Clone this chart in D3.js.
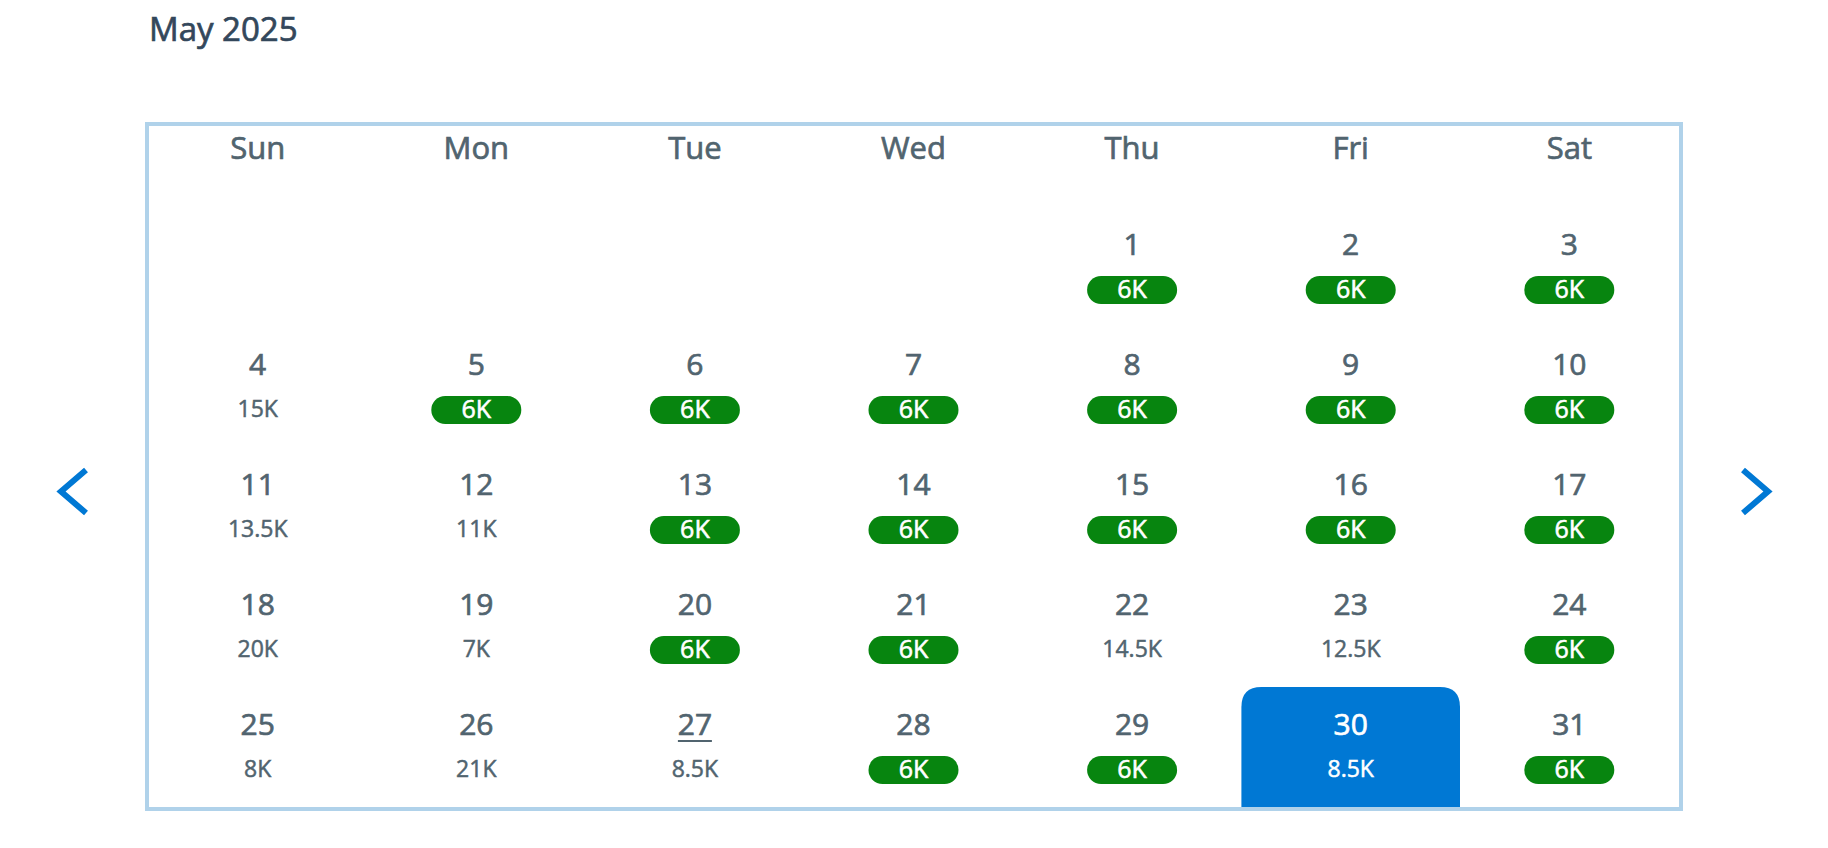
<!DOCTYPE html>
<html>
<head>
<meta charset="utf-8">
<script src="https://cdn.jsdelivr.net/npm/d3@7"></script>
<style>
  body { margin: 0; background: #fff; }
  text { font-family: "Open Sans", "Noto Sans", sans-serif; stroke: currentColor; paint-order: stroke; }
</style>
</head>
<body>
<div id="cal"></div>
<script>
const title = "May 2025";
const weekdays = ["Sun", "Mon", "Tue", "Wed", "Thu", "Fri", "Sat"];
const weeks = [0, 1, 2, 3, 4];
const firstWeekday = 4; // May 1 is a Thursday
const today = 27;
const selected = 30;
const lowest = 6;
// price per day of the month, in thousands
const prices = [6, 6, 6, 15, 6, 6, 6, 6, 6, 6,
                13.5, 11, 6, 6, 6, 6, 6, 20, 7, 6,
                6, 14.5, 12.5, 6, 8, 21, 8.5, 6, 6, 8.5, 6];

const width = 1828, height = 848;
const frame = {left: 147, right: 1681, top: 124, bottom: 809};

const colDay = "#51646f", colTitle = "#33475b", colBlue = "#0078d4",
      colGreen = "#07850f", colFrame = "#b0d2ea";

const svg = d3.select("#cal").append("svg")
    .attr("width", width)
    .attr("height", height)
    .style("display", "block");

const x = d3.scaleBand().domain(weekdays).range([148.4, 1678.6]);
const y = d3.scaleBand().domain(weeks).range([207, 807]);

// no medium weight installed, so regular text gets a thin outline
svg.append("text")
    .attr("x", 149)
    .attr("y", 41)
    .attr("font-size", 33)
    .attr("stroke-width", 0.7)
    .style("color", colTitle)
    .attr("fill", colTitle)
    .text(title);

// header row
svg.append("g").selectAll("text")
    .data(weekdays)
    .join("text")
    .attr("x", d => x(d) + x.bandwidth() / 2)
    .attr("y", 148)
    .attr("dy", "0.36em")
    .attr("text-anchor", "middle")
    .attr("font-size", 31)
    .attr("stroke-width", 0.7)
    .style("color", colDay)
    .attr("fill", colDay)
    .text(d => d);

const days = prices.map((p, i) => {
    const pos = i + firstWeekday;
    return {day: i + 1, price: p, col: weekdays[pos % 7], row: Math.floor(pos / 7)};
});

const cell = svg.append("g").selectAll("g")
    .data(days)
    .join("g")
    .attr("transform", d => `translate(${x(d.col) + x.bandwidth() / 2}, ${y(d.row)})`);

// selected cell, square at the bottom, round at the top
cell.filter(d => d.day === selected)
    .append("path")
    .attr("fill", colBlue)
    .attr("d", () => {
        const w = x.bandwidth() / 2, h = y.bandwidth(), r = 20;
        return `M${-w},${h}V${r}Q${-w},0 ${-w + r},0H${w - r}Q${w},0 ${w},${r}V${h}Z`;
    });

cell.append("text")
    .attr("y", 37)
    .attr("dy", "0.36em")
    .attr("text-anchor", "middle")
    .attr("font-size", 30)
    .attr("stroke-width", 0.7)
    .style("color", d => d.day === selected ? "#fff" : colDay)
    .attr("fill", d => d.day === selected ? "#fff" : colDay)
    .text(d => d.day);

// underline for today
cell.filter(d => d.day === today)
    .append("rect")
    .attr("x", -17)
    .attr("y", 53)
    .attr("width", 34)
    .attr("height", 2)
    .attr("fill", colDay);

cell.filter(d => d.price === lowest)
    .append("rect")
    .attr("x", -45)
    .attr("y", 69)
    .attr("width", 90)
    .attr("height", 28)
    .attr("rx", 14)
    .attr("fill", colGreen);

cell.append("text")
    .attr("y", d => d.price === lowest ? 81.5 : 81.5)
    .attr("dy", "0.36em")
    .attr("text-anchor", "middle")
    .attr("font-size", d => d.price === lowest ? 25 : 23)
    .attr("stroke-width", d => d.price === lowest ? 0.6 : 0.5)
    .style("color", d => d.price === lowest || d.day === selected ? "#fff" : colDay)
    .attr("fill", d => d.price === lowest || d.day === selected ? "#fff" : colDay)
    .text(d => `${d.price}K`);

// frame goes on top of the selected cell
svg.append("rect")
    .attr("x", frame.left)
    .attr("y", frame.top)
    .attr("width", frame.right - frame.left)
    .attr("height", frame.bottom - frame.top)
    .attr("fill", "none")
    .attr("stroke", colFrame)
    .attr("stroke-width", 4);

// previous / next arrows
const arrow = d3.line();
svg.append("path")
    .attr("d", arrow([[86, 470], [61, 491.5], [86, 513]]))
    .attr("fill", "none")
    .attr("stroke", colBlue)
    .attr("stroke-width", 6);
svg.append("path")
    .attr("d", arrow([[1743, 470], [1768, 491.5], [1743, 513]]))
    .attr("fill", "none")
    .attr("stroke", colBlue)
    .attr("stroke-width", 6);
</script>
</body>
</html>
